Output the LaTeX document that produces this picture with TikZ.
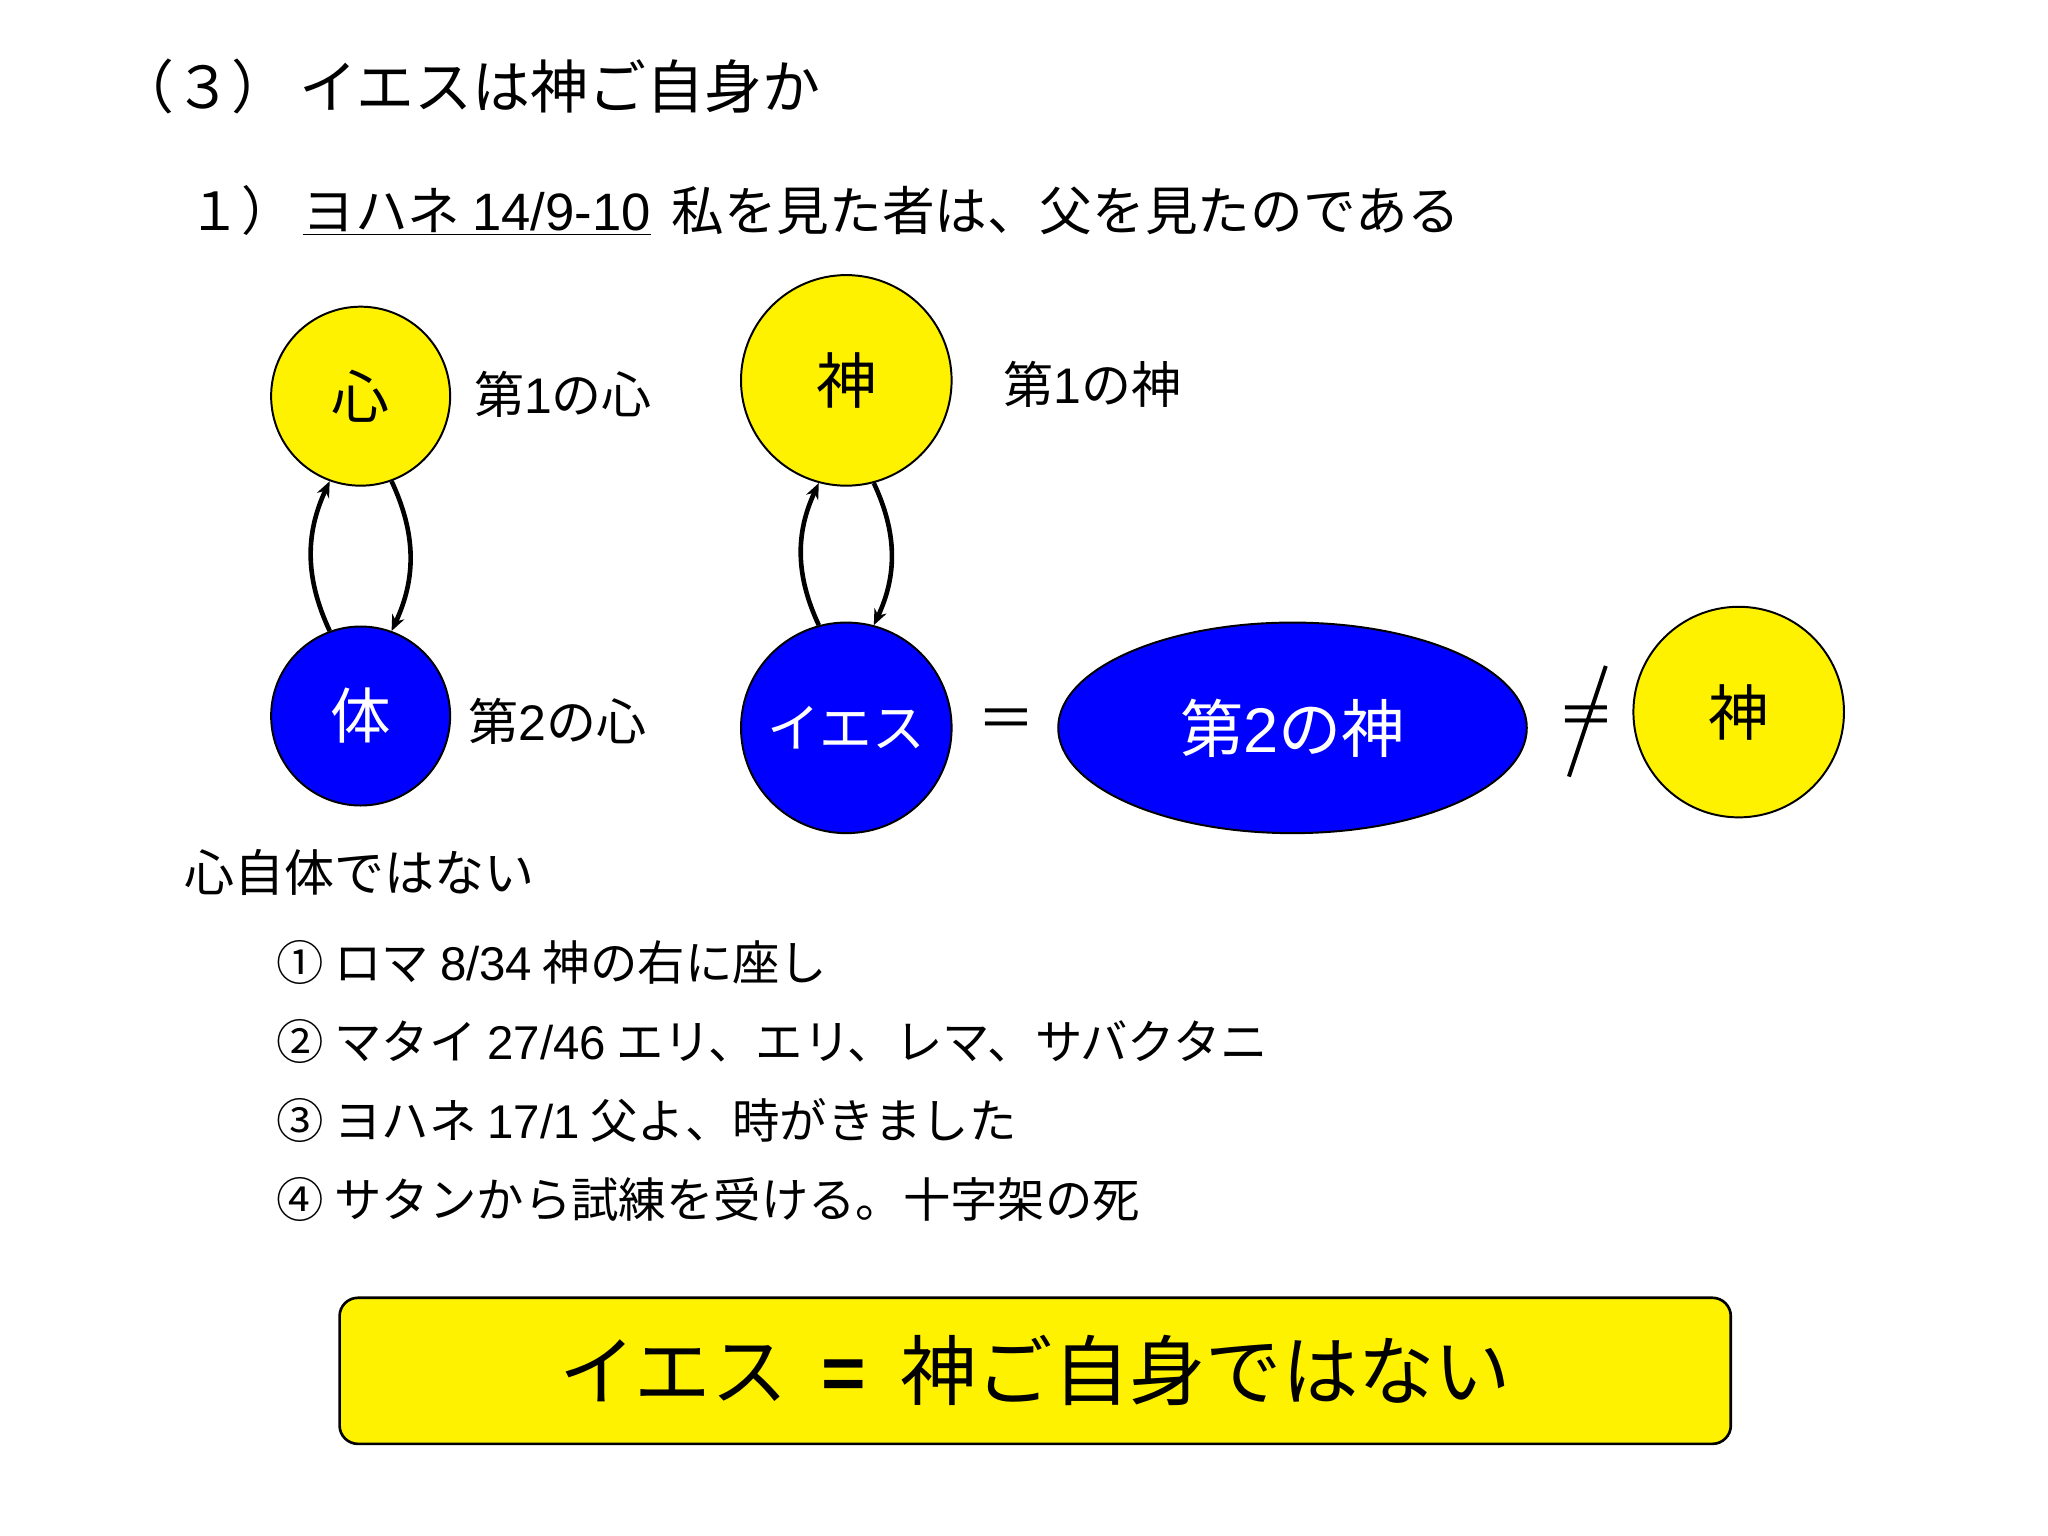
\documentclass[tikz,border=0pt]{standalone}
\usepackage{fontspec}
\setmainfont{Noto Sans CJK JP}
\newfontfamily\lat{Liberation Sans}
\usetikzlibrary{shapes.geometric,arrows.meta}
\begin{document}
\begin{tikzpicture}[x=1pt,y=-1pt,
  ycirc/.style={circle,draw=black,line width=1.5pt,fill=yellow,inner sep=0pt},
  bcirc/.style={circle,draw=black,line width=1.5pt,fill=blue,text=white,inner sep=0pt},
  txt/.style={anchor=west,inner sep=0pt,font=\fontsize{36}{42}\selectfont},
  arr/.style={line width=3.5pt,-{Stealth[length=12pt,width=10pt]}}]
\useasboundingbox[fill=white] (0,0) rectangle (1556,1167);
\node[txt,font=\fontsize{44}{50}\selectfont] (title) at (88,66) {（３）\,イエスは神ご自身か};
\node[txt,font=\fontsize{40}{46}\selectfont] (sub) at (143,160) {１）\,\underline{ヨハネ {\lat 14/9-10}}\ \,私を見た者は、父を見たのである};
\node[ycirc,minimum size=136pt,font=\fontsize{44}{50}\selectfont] (k1) at (274,301) {心};
\node[txt,font=\fontsize{38}{44}\selectfont] (k1l) at (360,300) {第{\lat 1}の心};
\node[ycirc,minimum size=160pt,font=\fontsize{46}{52}\selectfont] (g1) at (643,289) {神};
\node[txt,font=\fontsize{38}{44}\selectfont] (g1l) at (762,292) {第{\lat 1}の神};
\node[bcirc,minimum size=136pt,font=\fontsize{46}{52}\selectfont] (b) at (274,544) {体};
\node[txt,font=\fontsize{38}{44}\selectfont] (bl) at (356,548) {第{\lat 2}の心};
\node[bcirc,minimum size=160pt,font=\fontsize{40}{46}\selectfont] (j) at (643,553) {イエス};
\node[font=\fontsize{44}{50}\selectfont] (eq) at (765,550) {＝};
\node[ellipse,draw=black,line width=1.5pt,fill=blue,text=white,minimum width=356pt,minimum height=160pt,font=\fontsize{48}{54}\selectfont] (g2) at (982,553) {第{\lat 2}の神};
\node[font=\fontsize{44}{50}\selectfont] (ne) at (1205,548) {＝};
\draw[line width=3pt] (1220,506) -- (1192,590);
\node[ycirc,minimum size=160pt,font=\fontsize{46}{52}\selectfont] (g3) at (1321,541) {神};
\draw[arr] (b.110) to[bend left=25] (k1.250);
\draw[arr] (k1.290) to[bend left=25] (b.70);
\draw[arr] (j.105) to[bend left=25] (g1.255);
\draw[arr] (g1.285) to[bend left=25] (j.75);
\node[txt,font=\fontsize{38}{44}\selectfont] (n) at (140,663) {心自体ではない};
\node[txt] (l1) at (210,731) {① ロマ {\lat 8/34} 神の右に座し};
\node[txt] (l2) at (210,791) {② マタイ {\lat 27/46} エリ、エリ、レマ、サバクタニ};
\node[txt] (l3) at (210,851) {③ ヨハネ {\lat 17/1} 父よ、時がきました};
\node[txt] (l4) at (210,911) {④ サタンから試練を受ける。十字架の死};
\node[draw=black,line width=2pt,fill=yellow,rounded corners=14pt,minimum width=1057pt,minimum height=111pt,font=\fontsize{58}{64}\selectfont] (box) at (786.5,1041.5) {イエス \ {\lat\bfseries =} \ 神ご自身ではない};
\end{tikzpicture}
\end{document}
